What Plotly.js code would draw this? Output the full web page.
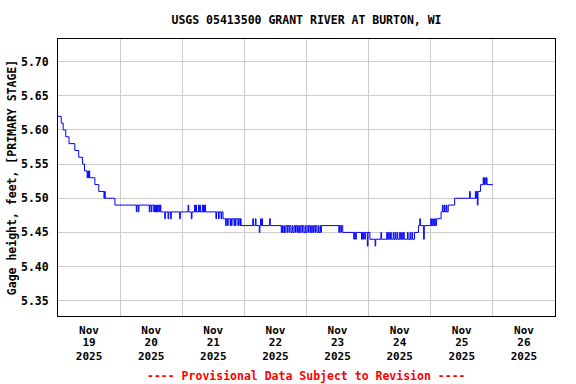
<!DOCTYPE html>
<html>
<head>
<meta charset="utf-8">
<script src="https://cdn.plot.ly/plotly-3.0.1.min.js"></script>
<style>html,body{margin:0;padding:0;background:#fff;}#chart{width:576px;height:384px;}</style>
</head>
<body>
<div id="chart"></div>
<script>
// Hours since 2025-11-19 00:00 at which the gage height changes, and the new value
const hoursFromStart = [
  0, 1.25, 2, 3, 4.25, 6.5, 8, 9.5, 10.25, 11.25, 11.5, 11.75, 12, 12.25, 14.25, 15.75, 17.75, 18, 18.25, 22,
  30.25, 30.5, 31, 31.25, 35.25, 35.5, 36, 36.25, 37, 37.25, 37.5, 37.75, 38, 38.25, 38.5, 38.75, 39.25, 39.5, 39.75,
  41.25, 41.5, 42.5, 42.75, 43.5, 43.75, 47, 47.25, 50.25, 50.5, 51.5, 51.75, 52.75, 53, 53.25, 53.5, 54.25, 54.5,
  54.75, 55, 55.75, 56, 56.25, 56.5, 56.75, 57, 61, 61.25, 62, 62.25, 63, 63.25, 63.75, 64.75, 65, 65.5, 65.75,
  66.5, 66.75, 67, 67.25, 68, 68.25, 68.5, 68.75, 69.5, 69.75, 70.25, 70.5, 70.75,
  75.25, 75.5, 76.25, 76.5, 77.75, 78, 78.25, 78.5, 78.75, 79, 81.75, 82, 86.25,
  86.5, 86.75, 87.25, 87.5, 88, 88.5, 88.75, 89.25, 89.5, 90, 90.5, 90.75, 91.25, 91.75, 92, 92.5, 93, 93.25,
  93.75, 94.25, 94.5, 95, 95.5, 95.75, 96.25, 96.75, 97, 97.5, 98, 98.25, 98.75, 99.25, 99.5, 100, 100.5, 100.75,
  101.25, 101.5, 101.75, 108.5, 108.75, 109.25, 109.5, 110, 114.25, 114.5, 115, 115.25, 117.25, 117.5, 117.75,
  118, 118.5, 118.75, 119.5, 119.75, 120.5, 122.5, 122.75, 124.75, 125, 127, 127.25, 127.75, 128, 128.5, 128.75,
  129.5, 129.75, 130.25, 130.5, 131, 131.25, 132, 132.25, 132.75, 133, 133.5, 133.75, 135, 135.25, 136, 136.25,
  136.75, 137, 137.75, 139.25, 139.75, 140, 141.25, 141.5, 144, 144.25, 144.75, 145, 145.5, 145.75, 146.25, 148,
  148.5, 148.75, 149.25, 149.5, 150, 150.25, 150.75, 153.25, 159, 159.25, 161.25, 161.5, 161.75, 162, 162.25,
  163.25, 164.25, 164.5, 164.75, 165.25, 165.5, 165.75, 168
];
const gageHeight = [
  5.62, 5.61, 5.60, 5.59, 5.58, 5.57, 5.56, 5.55, 5.54, 5.53, 5.54, 5.53, 5.54, 5.53, 5.52, 5.51, 5.50, 5.51, 5.50, 5.49,
  5.48, 5.49, 5.48, 5.49, 5.48, 5.49, 5.48, 5.49, 5.48, 5.49, 5.48, 5.49, 5.48, 5.49, 5.48, 5.49, 5.48, 5.49, 5.48,
  5.47, 5.48, 5.47, 5.48, 5.47, 5.48, 5.47, 5.48, 5.49, 5.48, 5.47, 5.48, 5.49, 5.48, 5.49, 5.48, 5.49, 5.48,
  5.49, 5.48, 5.49, 5.48, 5.49, 5.48, 5.49, 5.48, 5.47, 5.48, 5.47, 5.48, 5.47, 5.48, 5.47, 5.46, 5.47, 5.46, 5.47,
  5.46, 5.47, 5.46, 5.47, 5.46, 5.47, 5.46, 5.47, 5.46, 5.47, 5.46, 5.47, 5.46,
  5.47, 5.46, 5.47, 5.46, 5.45, 5.46, 5.47, 5.46, 5.47, 5.46, 5.47, 5.46, 5.45,
  5.46, 5.45, 5.46, 5.45, 5.46, 5.45, 5.46, 5.45, 5.46, 5.45, 5.46, 5.45, 5.46, 5.45, 5.46, 5.45, 5.46, 5.45,
  5.46, 5.45, 5.46, 5.45, 5.46, 5.45, 5.46, 5.45, 5.46, 5.45, 5.46, 5.45, 5.46, 5.45, 5.46, 5.45, 5.46, 5.45,
  5.46, 5.45, 5.46, 5.45, 5.46, 5.45, 5.46, 5.45, 5.44, 5.45, 5.44, 5.45, 5.44, 5.45, 5.44,
  5.45, 5.44, 5.45, 5.43, 5.45, 5.44, 5.43, 5.44, 5.45, 5.44, 5.45, 5.44, 5.45, 5.44, 5.45, 5.44,
  5.45, 5.44, 5.45, 5.44, 5.45, 5.44, 5.45, 5.44, 5.45, 5.44, 5.45, 5.44, 5.45, 5.44, 5.45, 5.44,
  5.45, 5.44, 5.45, 5.46, 5.47, 5.46, 5.44, 5.46, 5.47, 5.46, 5.47, 5.46, 5.47, 5.46, 5.47, 5.48,
  5.49, 5.48, 5.49, 5.48, 5.49, 5.48, 5.49, 5.50, 5.51, 5.50, 5.51, 5.50, 5.51, 5.49, 5.51,
  5.52, 5.53, 5.52, 5.53, 5.52, 5.53, 5.52, 5.52
];
const yTicks = [5.35, 5.40, 5.45, 5.50, 5.55, 5.60, 5.65, 5.70];
const xRange = ['2025-11-19 00:00', '2025-11-27 00:00'];
const yRange = [5.3276, 5.7332];
const titleText = 'USGS 05413500 GRANT RIVER AT BURTON, WI';
const yTitleText = 'Gage height, feet, [PRIMARY STAGE]';
const noteText = '---- Provisional Data Subject to Revision ----';

const start = Date.UTC(2025, 10, 19, 0, 0, 0);
const times = hoursFromStart.map(h => new Date(start + h * 3600000).toISOString().replace('T', ' ').slice(0, 19));

const FONT = 'DejaVu Sans Mono, monospace';
const fnt = {family: FONT, size: 11.5, color: '#000000', weight: 'bold'};
const xfnt = {family: FONT, size: 11, color: '#000000', weight: 'bold'};
const DAY = 86400000;

const baseX = {
  type: 'date', range: xRange, dtick: DAY, tick0: '2025-11-19 00:00',
  ticklabelmode: 'period', ticks: '', tickfont: xfnt, fixedrange: true
};

const trace = {
  x: times, y: gageHeight, type: 'scatter', mode: 'lines',
  line: {color: '#0000FF', width: 1, shape: 'hv'}, hoverinfo: 'skip', showlegend: false
};
// empty helper traces so the extra label rows (day, year) are drawn
const dayRow = {x: [], y: [], xaxis: 'x2', type: 'scatter', mode: 'lines', showlegend: false, hoverinfo: 'skip'};
const yearRow = {x: [], y: [], xaxis: 'x3', type: 'scatter', mode: 'lines', showlegend: false, hoverinfo: 'skip'};

const layout = {
  width: 576, height: 384,
  margin: {l: 58, r: 21, t: 39, b: 68},
  paper_bgcolor: '#ffffff', plot_bgcolor: '#ffffff',
  font: fnt,
  showlegend: false,
  title: {text: titleText, font: fnt, x: 0.5, xref: 'paper', xanchor: 'center', y: 1 - 20/384, yref: 'container', yanchor: 'middle'},
  xaxis: Object.assign({}, baseX, {
    tickformat: '%b', showline: true, mirror: true, linecolor: '#000000', linewidth: 1,
    showgrid: true, gridcolor: '#cccccc', gridwidth: 1, zeroline: false, ticklabelstandoff: 4
  }),
  xaxis2: Object.assign({}, baseX, {
    overlaying: 'x', anchor: 'y', side: 'bottom', tickformat: '%d', showline: false, showgrid: false,
    zeroline: false, ticklabelstandoff: 18
  }),
  xaxis3: Object.assign({}, baseX, {
    overlaying: 'x', anchor: 'y', side: 'bottom', tickformat: '%Y', showline: false, showgrid: false,
    zeroline: false, ticklabelstandoff: 32
  }),
  yaxis: {
    range: yRange, tickvals: yTicks, ticktext: yTicks.map(v => v.toFixed(2)), ticks: '',
    tickfont: fnt, showline: true, mirror: true, linecolor: '#000000', linewidth: 1,
    showgrid: true, gridcolor: '#cccccc', gridwidth: 1, zeroline: false, ticklabelstandoff: 6,
    title: {text: yTitleText, font: fnt, standoff: 1}, fixedrange: true
  },
  annotations: [{
    text: noteText, xref: 'paper', yref: 'paper', x: 0.5, y: (316 - 376) / 277,
    xanchor: 'center', yanchor: 'middle', showarrow: false,
    font: {family: FONT, size: 11.5, color: '#FF0000', weight: 'bold'}
  }]
};

Plotly.newPlot('chart', [trace, dayRow, yearRow], layout, {staticPlot: true, displayModeBar: false});
</script>
</body>
</html>
